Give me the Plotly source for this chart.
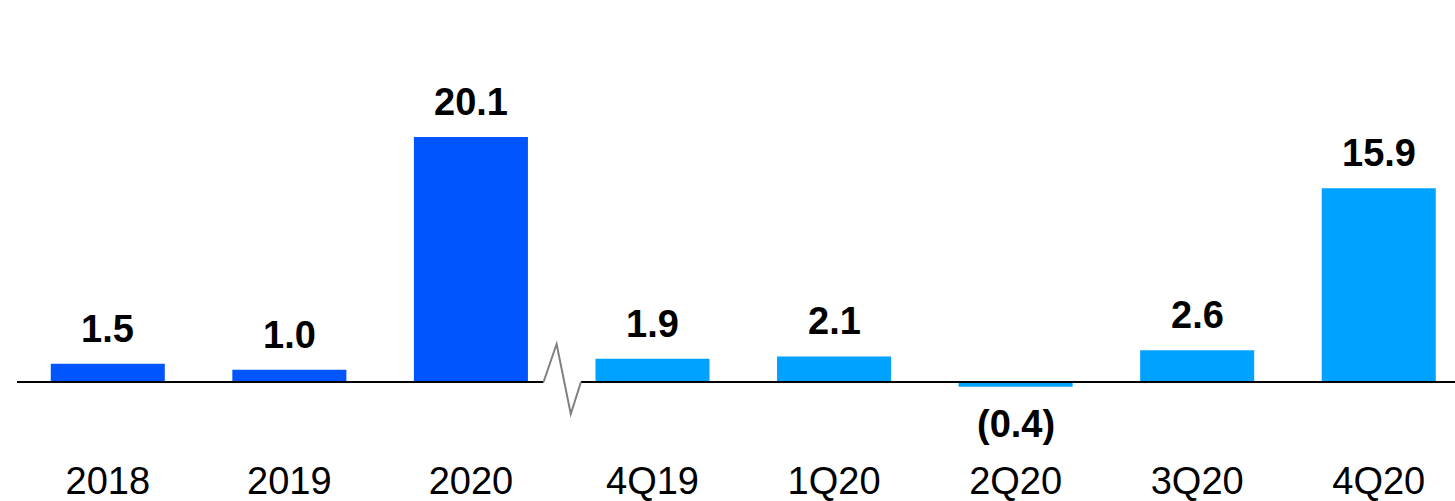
import plotly.graph_objects as go

categories = ["2018", "2019", "2020", "4Q19", "1Q20", "2Q20", "3Q20", "4Q20"]
values = [1.5, 1.0, 20.1, 1.9, 2.1, -0.4, 2.6, 15.9]
value_labels = ["1.5", "1.0", "20.1", "1.9", "2.1", "(0.4)", "2.6", "15.9"]
annual_color = "#0055FF"
quarter_color = "#00A2FF"
colors = [annual_color] * 3 + [quarter_color] * 5

xs = list(range(len(categories)))

fig = go.Figure()
fig.add_trace(go.Bar(
    x=xs, y=values, marker_color=colors, width=0.628,
    marker_line_width=0, showlegend=False, hoverinfo="skip",
))

font_family = "Liberation Sans, Arial, sans-serif"
for x, v, lab in zip(xs, values, value_labels):
    if v >= 0:
        fig.add_annotation(x=x, y=v, text="<b>%s</b>" % lab, showarrow=False,
                           yanchor="bottom", yshift=12,
                           font=dict(family=font_family, size=38, color="#000000"))
    else:
        fig.add_annotation(x=x, y=v, text="<b>%s</b>" % lab, showarrow=False,
                           yanchor="top", yshift=-14,
                           font=dict(family=font_family, size=38, color="#000000"))

# baseline with break
line_style = dict(color="#000000", width=2)
fig.add_shape(type="line", xref="x", yref="y", x0=-0.5, x1=2.40, y0=0, y1=0, line=line_style)
fig.add_shape(type="line", xref="x", yref="y", x0=2.606, x1=7.6, y0=0, y1=0, line=line_style)
fig.add_shape(type="path", xref="x", yref="y",
              path="M 2.40 0 L 2.472 3.12 L 2.55 -2.63 L 2.606 0",
              line=dict(color="#808080", width=2))

fig.update_layout(
    width=1455, height=501,
    margin=dict(l=17, r=0, t=20, b=46),
    plot_bgcolor="white", paper_bgcolor="white",
    xaxis=dict(
        range=[-0.5, 7.42], tickmode="array", tickvals=xs, ticktext=categories,
        showgrid=False, zeroline=False, showline=False, ticks="",
        automargin=False,
        tickfont=dict(family=font_family, size=38, color="#000000"),
    ),
    yaxis=dict(range=[-5.99, 29.7], visible=False, showgrid=False, zeroline=False,
               automargin=False),
)

fig.write_html("out.html")
